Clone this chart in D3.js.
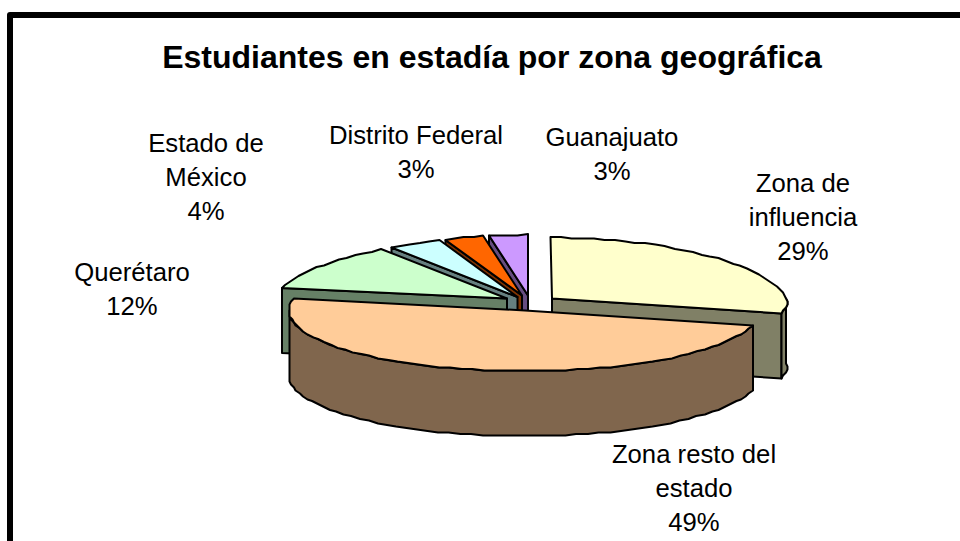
<!DOCTYPE html>
<html><head><meta charset="utf-8">
<script src="https://cdn.jsdelivr.net/npm/d3@7"></script>
<style>html,body{margin:0;padding:0;background:#fff;overflow:hidden}svg{display:block}</style>
</head><body><svg width="960" height="541"></svg>
<script>
const categories = ["Zona de influencia","Zona resto del estado","Querétaro","Estado de México","Distrito Federal","Guanajuato"];
const values = [29,49,12,4,3,3];
const topColors = ["#FFFFCC","#FFCC99","#CCFFCC","#CCFFFF","#FF6600","#CC99FF"];
const labelLines = [["Zona de","influencia","29%"],["Zona resto del","estado","49%"],["Querétaro","12%"],["Estado de","México","4%"],["Distrito Federal","3%"],["Guanajuato","3%"]];
const labelCenters = [[803,192],[694,463],[132,281],[206,152],[416,144],[612,146]];
const title = "Estudiantes en estadía por zona geográfica";

const svg = d3.select("svg");
const cx=530.5, cy=303, A=235.5, B=61, P=0.1, E=0.12, DEPTH=65, GRID=1.5;
const arcs = d3.pie().sort(null).value(d=>d).startAngle(0).endAngle(2*Math.PI)(values);
const snap=p=>Math.round(p/GRID)*GRID;
const toXY=(u,v)=>{const w=v>0?1/(1+P*v):1;return [snap(cx+A*u*w), snap(cy-B*v)];};
const line=d3.line().curve(d3.curveLinearClosed);

// frame: top and left rules only, running off the picture
svg.append("path").attr("d","M10,541V15H960").attr("fill","none").attr("stroke","#000").attr("stroke-width",6).attr("stroke-linejoin","round");
svg.append("text").attr("x",492).attr("y",68).attr("text-anchor","middle")
  .attr("font-family","Liberation Sans, Arial, sans-serif").attr("font-weight","bold")
  .attr("font-size",32).text(title);

const order=[5,4,3,2,0,1];
const g=svg.append("g").attr("stroke","#000").attr("stroke-width",2).attr("stroke-linejoin","round");
order.forEach(i=>{
  const a=arcs[i], mid=(a.startAngle+a.endAngle)/2;
  const ou=E*Math.sin(mid), ov=E*Math.cos(mid);
  const pt=t=>toXY(ou+Math.sin(t),ov+Math.cos(t));
  const apex=toXY(ou,ov);
  const down=p=>[p[0],p[1]+DEPTH];
  const col=topColors[i], c=d3.rgb(col);
  const sideCol=d3.rgb(c.r/2,c.g/2,c.b/2).formatHex();
  const sample=(t0,t1)=>{const n=Math.max(2,Math.round((t1-t0)/0.05));return d3.range(n+1).map(k=>pt(t0+(t1-t0)*k/n));};
  const wall=t=>{const p=pt(t);g.append("path").attr("fill",sideCol).attr("d",line([apex,p,down(p),down(apex)]));};
  if(Math.sin(a.startAngle)<-1e-6) wall(a.startAngle);
  if(Math.sin(a.endAngle)>1e-6) wall(a.endAngle);
  const r0=Math.max(a.startAngle,Math.PI/2), r1=Math.min(a.endAngle,3*Math.PI/2);
  if(r1>r0){const s=sample(r0,r1);g.append("path").attr("fill",sideCol).attr("d",line(s.concat(s.map(down).reverse())));}
  g.append("path").attr("fill",col).attr("d",line([apex].concat(sample(a.startAngle,a.endAngle))));
});

const tg=svg.append("g").attr("font-family","Liberation Sans, Arial, sans-serif").attr("font-size",25.7).attr("text-anchor","middle").attr("fill","#000");
labelLines.forEach((ls,i)=>{
  ls.forEach((t,k)=>{
    tg.append("text").attr("x",labelCenters[i][0]).attr("y",labelCenters[i][1]+k*34).text(t);
  });
});
</script></body></html>
